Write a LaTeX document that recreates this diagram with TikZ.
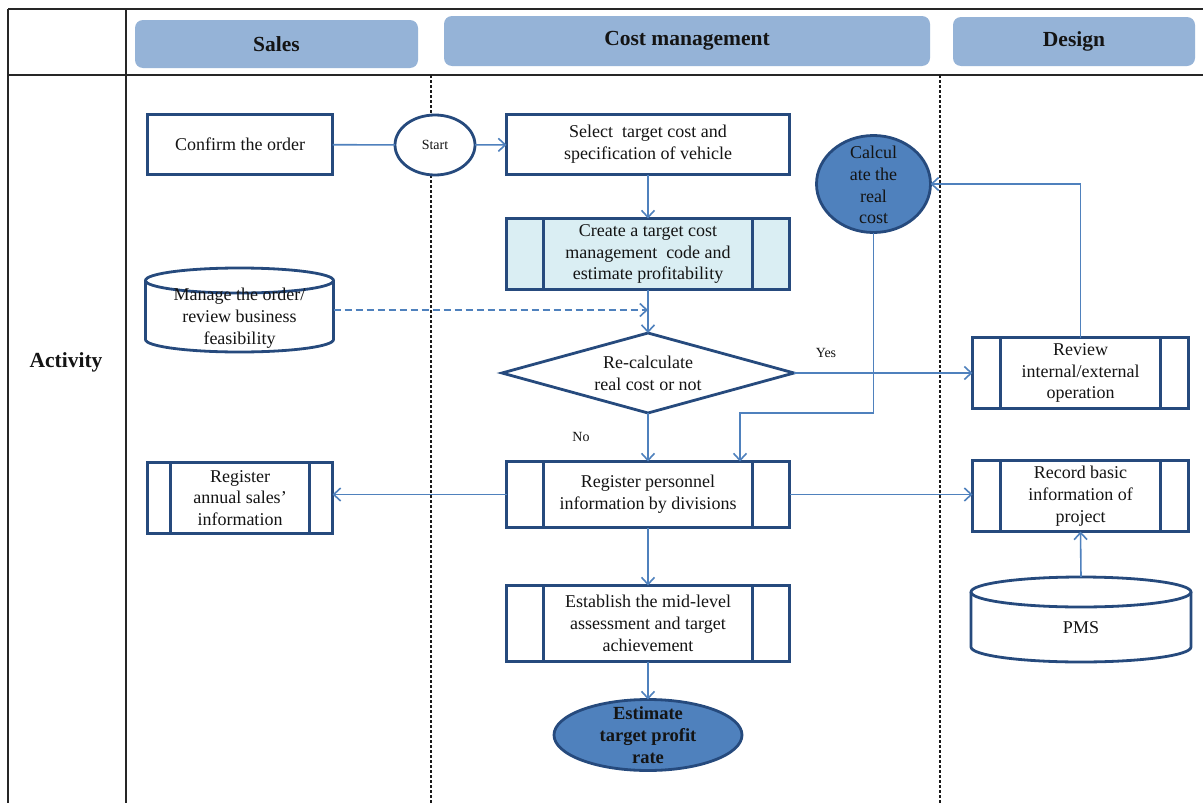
\documentclass[tikz,border=0pt]{standalone}
\usepackage{fontspec}
\setmainfont{Liberation Serif}
\usetikzlibrary{arrows.meta,shapes.geometric,calc}

\definecolor{edge}{RGB}{38,74,125}
\definecolor{link}{RGB}{79,129,189}
\definecolor{lanehead}{RGB}{149,179,215}
\definecolor{paleblue}{RGB}{218,238,243}
\definecolor{discfill}{RGB}{79,129,189}
\definecolor{ink}{RGB}{20,20,20}

\begin{document}
\begin{tikzpicture}[x=1pt,y=-1pt,
  every node/.style={font=\fontsize{18}{21.7}\selectfont, text=ink, align=center, inner sep=0pt},
  stepbox/.style={rectangle, draw=edge, line width=2.8pt, fill=white, outer sep=0pt},
  decision/.style={diamond, draw=edge, line width=2.8pt, fill=white, aspect=3.65, outer sep=0pt},
  disc/.style={ellipse, draw=edge, line width=2.8pt, fill=discfill, outer sep=0pt},
  startnode/.style={ellipse, draw=edge, line width=2.8pt, fill=white, outer sep=0pt,
    font=\fontsize{14}{16}\selectfont},
  drumframe/.style={rectangle, outer sep=0pt},
  drum/.style={draw=edge, line width=2.8pt},
  edgeline/.style={draw=edge, line width=2.8pt},
  conn/.style={draw=link, line width=1.6pt},
  arr/.style={conn, -{Straight Barb[length=7pt,width=13pt]}},
  smalltext/.style={font=\fontsize{14}{16}\selectfont},
  headbox/.style={fill=lanehead, rounded corners=8pt, font=\fontsize{21.5}{24}\selectfont\bfseries},
  gridline/.style={line width=2pt, draw=black!85},
  laneline/.style={line width=1.3pt, draw=black!90, dash pattern=on 3pt off 2pt},
]
\useasboundingbox (0,0) rectangle (1203,803);
\fill[white] (0,0) rectangle (1203,803);

% table frame
\draw[gridline] (8,9) -- (1203,9);
\draw[gridline] (8,75) -- (1203,75);
\draw[gridline] (8,9) -- (8,803);
\draw[gridline] (126,9) -- (126,803);

% lane headers
\node[headbox, minimum width=283, minimum height=48] (hsales) at (276.5,44) {Sales};
\node[headbox, minimum width=486, minimum height=50] (hcost) at (687,41) {Cost management};
\node[headbox, minimum width=242, minimum height=49] (hdesign) at (1074,41.5) {Design};
\node[font=\fontsize{21.5}{24}\selectfont\bfseries] (act) at (66,362) {Activity};

% lane separators
\draw[laneline] (431,75) -- (431,803);
\draw[laneline] (940,75) -- (940,803);

% process steps
\node[stepbox, minimum width=185, minimum height=60] (confirm) at (240,144.5) {Confirm the order};
\node[startnode, minimum width=80, minimum height=60] (start) at (435,145) {Start};
\node[stepbox, minimum width=283, minimum height=60] (select) at (648,144.5)
  {Select~ target cost and\\specification of vehicle};
\node[stepbox, fill=paleblue, minimum width=283, minimum height=71] (create) at (648,254)
  {Create a target cost\\management~ code and\\estimate profitability};
\node[decision, minimum width=292, minimum height=80] (dia) at (648,373)
  {Re-calculate\\real cost or not};
\node[disc, minimum width=114, minimum height=97] (calc) at (873.5,184) {};
\node (calctext) at (873.5,185) {Calcul\\ate the\\real\\cost};
\node[stepbox, minimum width=216, minimum height=71] (review) at (1080.5,373)
  {Review\\internal/external\\operation};
\node[stepbox, minimum width=283, minimum height=66] (regp) at (648,494.5)
  {Register personnel\\information by divisions};
\node[stepbox, minimum width=185, minimum height=71] (rega) at (240,498)
  {Register\\annual sales’\\information};
\node[stepbox, minimum width=216, minimum height=71] (record) at (1080.5,496)
  {Record basic\\information of\\project};
\node[stepbox, minimum width=283, minimum height=76] (est) at (648,623.5)
  {Establish the mid-level\\assessment and target\\achievement};
\node[disc, minimum width=188, minimum height=71] (estimate) at (648,735) {};
\node[font=\fontsize{18.5}{21.7}\selectfont\bfseries] (esttext) at (648,735)
  {Estimate\\target profit\\rate};

% side bars of the predefined-process boxes
\foreach \n/\d in {create/37,regp/37,est/37,rega/23,review/28,record/28}{
  \draw[edgeline] ($(\n.north west)+(\d,0)$) -- ($(\n.south west)+(\d,0)$);
  \draw[edgeline] ($(\n.north east)+(-\d,0)$) -- ($(\n.south east)+(-\d,0)$);
}

% order database
\node[drumframe, minimum width=188, minimum height=84] (manage) at (239.5,310) {};
\draw[drum] ($(manage.north west)+(0,12.5)$) -- ($(manage.south west)+(0,-12.5)$)
  arc[start angle=180, end angle=360, x radius=94pt, y radius=12.5pt]
  -- ($(manage.north east)+(0,12.5)$);
\draw[drum] ($(manage.north)+(0,12.5)$) ellipse[x radius=94pt, y radius=12.5pt];
\node (managetext) at (239.5,318) {Manage the order/\\review business\\feasibility};

% PMS database
\node[drumframe, minimum width=220, minimum height=85] (pms) at (1081,619.5) {};
\draw[drum] ($(pms.north west)+(0,15)$) -- ($(pms.south west)+(0,-15)$)
  arc[start angle=180, end angle=360, x radius=110pt, y radius=15pt]
  -- ($(pms.north east)+(0,15)$);
\draw[drum] ($(pms.north)+(0,15)$) ellipse[x radius=110pt, y radius=15pt];
\node (pmstext) at (1081,628) {PMS};

% connectors
\coordinate (dj) at (create.south |- manage.east);
\draw[conn] (confirm) -- (start);
\draw[arr] (start) -- (select);
\draw[arr] (select) -- (create);
\draw[arr] (create) -- (dia);
\draw[arr, dashed, dash pattern=on 7pt off 4pt] (manage.east) -- (dj);
\draw[arr] (dia.south) -- (regp.north);
\draw[arr] (dia.east) -- (review.west);
\draw[arr] (review.north) |- (calc.east);
\draw[arr] (calc.south) -- (calc.south |- dia.south) -| ([xshift=92pt]regp.north);
\draw[arr] (regp.west) -- (regp.west -| rega.east);
\draw[arr] (regp.east) -- (regp.east -| record.west);
\draw[arr] (regp.south) -- (est.north);
\draw[arr] (est.south) -- (estimate.north);
\draw[arr] (pms.north) -- (record.south);

% branch labels
\node[smalltext] (yes) at (826,353) {Yes};
\node[smalltext] (no) at (581,437) {No};
\end{tikzpicture}
\end{document}
